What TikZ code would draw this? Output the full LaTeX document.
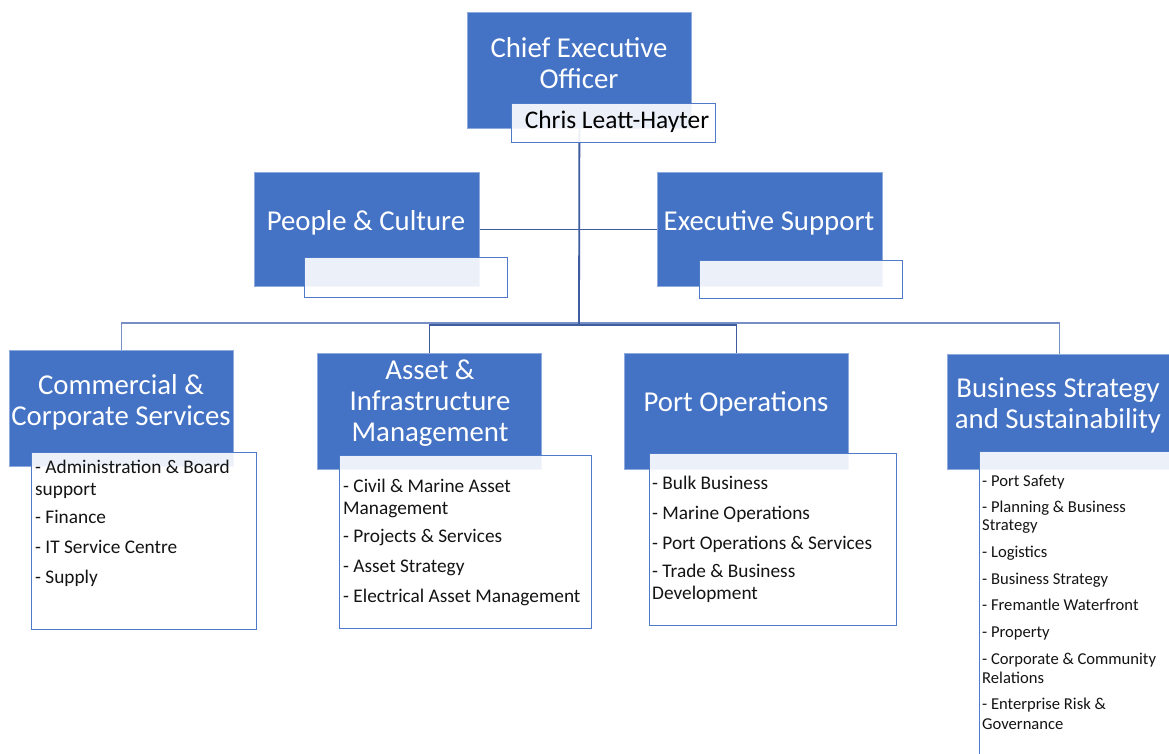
\documentclass[tikz,border=0pt]{standalone}
\usepackage{fontspec}
\setmainfont{Carlito}
\definecolor{ublue}{RGB}{68,114,196}
\definecolor{boxedge}{RGB}{143,170,220}
\definecolor{subedge}{RGB}{78,122,200}
\definecolor{lined}{RGB}{62,92,158}
\definecolor{linel}{RGB}{118,143,198}
\definecolor{itemtxt}{RGB}{20,20,20}
\begin{document}
\begin{tikzpicture}[x=1pt,y=-1pt,
  bluebox/.style={draw=boxedge, fill=ublue, line width=0.8pt, inner sep=0pt, anchor=north west},
  subbox/.style={draw=subedge, fill=white, fill opacity=0.9, line width=1.2pt, inner sep=0pt, anchor=north west},
  title/.style={text=white, align=center, inner sep=0pt, font=\fontsize{28.8}{31}\selectfont},
  item/.style={text=itemtxt, anchor=base west, inner sep=0pt, font=\fontsize{19.3}{22}\selectfont},
  smallitem/.style={text=itemtxt, anchor=base west, inner sep=0pt, font=\fontsize{16.6}{19}\selectfont},
  connd/.style={draw=lined, line width=1.8pt},
  conn/.style={draw=lined, line width=1.3pt},
  connl/.style={draw=linel, line width=1.5pt}
]
\useasboundingbox (0,0) rectangle (1169,753);
\clip (0,0) rectangle (1169,753);
\fill[white] (0,0) rectangle (1169,753);

% boxes (shapes only)
\node[bluebox, minimum width=224pt, minimum height=116pt] (ceo) at (467,12) {};
\node[bluebox, minimum width=225pt, minimum height=114pt] (pc) at (254,172) {};
\node[bluebox, minimum width=225pt, minimum height=114pt] (es) at (657,172) {};
\node[bluebox, minimum width=224pt, minimum height=116pt] (comm) at (9,350) {};
\node[bluebox, minimum width=224pt, minimum height=116pt] (asset) at (317,353) {};
\node[bluebox, minimum width=224pt, minimum height=116pt] (port) at (624,353) {};
\node[bluebox, minimum width=224pt, minimum height=115pt] (bss) at (947,354) {};

% connectors
\coordinate (hubA) at (579,325);
\coordinate (hubB) at (579,323);
\draw[connl] (hubB) -| (comm.north);
\draw[connl] (hubB) -| (bss.north);
\draw[conn] (hubA) -| (asset.north);
\draw[conn] (hubA) -| (port.north);
\draw[connd] (ceo.south) -- (hubA);
\draw[conn] (pc.east) -- (es.west);

% sub boxes
\node[subbox, minimum width=204pt, minimum height=39pt] (chris) at (511,103) {};
\node[subbox, minimum width=203pt, minimum height=40pt] (pcsub) at (304,257) {};
\node[subbox, minimum width=203pt, minimum height=38pt] (essub) at (699,260) {};
\node[subbox, minimum width=225pt, minimum height=177pt] (commsub) at (31,452) {};
\node[subbox, minimum width=252pt, minimum height=173pt] (assetsub) at (339,455) {};
\node[subbox, minimum width=247pt, minimum height=172pt] (portsub) at (649,453) {};
\node[subbox, minimum width=240pt, minimum height=330pt] (bsssub) at (979,451) {};

% titles
\node[title] (ceot) at (579,63) {Chief Executive\\Officer};
\node[inner sep=0pt, text=black, font=\fontsize{25.4}{28}\selectfont] (christ) at (617,122) {Chris Leatt-Hayter};
\node[title] (pct) at (366,223) {People \& Culture};
\node[title] (est) at (769,223) {Executive Support};
\node[title] (commt) at (121,402) {Commercial \&\\Corporate Services};
\node[title] (assett) at (430,403) {Asset \&\\Infrastructure\\Management};
\node[title] (portt) at (736,404) {Port Operations};
\node[title] (bsst) at (1058,405) {Business Strategy\\and Sustainability};

% items
\foreach \t/\yy [count=\i] in {- Administration \& Board/473, support/495, - Finance/523, - IT Service Centre/553, - Supply/583}
  \node[item] (ci\i) at (35,\yy) {\t};
\foreach \t/\yy [count=\i] in {- Civil \& Marine Asset/492, Management/514, - Projects \& Services/542, - Asset Strategy/572, - Electrical Asset Management/602}
  \node[item] (ai\i) at (343,\yy) {\t};
\foreach \t/\yy [count=\i] in {- Bulk Business/489, - Marine Operations/519, - Port Operations \& Services/549, - Trade \& Business/577, Development/599}
  \node[item] (pi\i) at (652,\yy) {\t};
\foreach \t/\yy [count=\i] in {- Port Safety/486, - Planning \& Business/512, Strategy/530, - Logistics/557, - Business Strategy/584, - Fremantle Waterfront/610, - Property/637, - Corporate \& Community/664, Relations/683, - Enterprise Risk \&/709, Governance/729}
  \node[smallitem] (bi\i) at (982,\yy) {\t};
\end{tikzpicture}
\end{document}
